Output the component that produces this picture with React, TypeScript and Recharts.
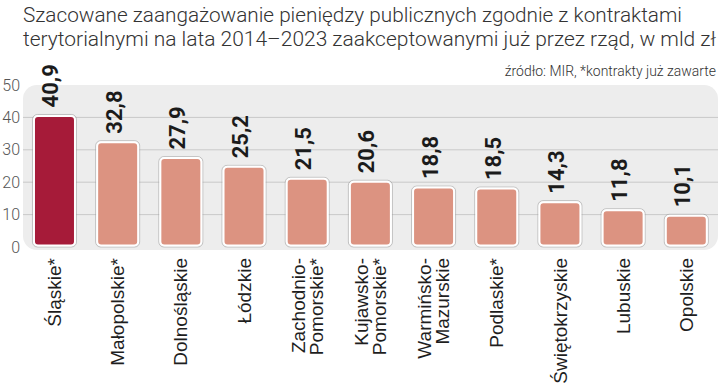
import React from 'react';
import { BarChart, Bar, XAxis, YAxis, Cell, LabelList, ReferenceArea, ReferenceLine } from 'recharts';

const titleLines = [
  'Szacowane zaangażowanie pieniędzy publicznych zgodnie z kontraktami',
  'terytorialnymi na lata 2014–2023 zaakceptowanymi już przez rząd, w mld zł',
];
const sourceText = 'źródło: MIR, *kontrakty już zawarte';

const categories = [
  'Śląskie*',
  'Małopolskie*',
  'Dolnośląskie',
  'Łódzkie',
  'Zachodnio-\nPomorskie*',
  'Kujawsko-\nPomorskie*',
  'Warmińsko-\nMazurskie',
  'Podlaskie*',
  'Świętokrzyskie',
  'Lubuskie',
  'Opolskie',
];
const values = [40.9, 32.8, 27.9, 25.2, 21.5, 20.6, 18.8, 18.5, 14.3, 11.8, 10.1];
const yTicks = [0, 10, 20, 30, 40, 50];
const gridValues = [10, 20, 30, 40];
const highlightIndex = 0;

const DARK = '#a61b39';
const LIGHT = '#dc9381';

const data = categories.map((c, i) => ({ name: c, value: values[i] }));

const BarShape = (props: any) => {
  const { x, y, width, height, fill } = props;
  if (width == null || height == null) return null;
  return (
    <g>
      <rect x={x} y={y} width={width} height={height} rx={5} fill="none" stroke="#9a9a9a" strokeOpacity={0.55} strokeWidth={1} />
      <rect x={x + 1.5} y={y + 1.5} width={width - 3} height={height - 3} rx={4} fill={fill} stroke="#ffffff" strokeWidth={2} />
    </g>
  );
};

const ValueLabel = (props: any) => {
  const vb = props.viewBox && props.viewBox.width != null ? props.viewBox : props;
  const cx = vb.x + vb.width / 2;
  const top = vb.y - 7;
  const bx = cx + 4;
  const txt = String(props.value).replace('.', ',');
  return (
    <text
      x={bx}
      y={top}
      transform={`rotate(-90 ${bx} ${top})`}
      textAnchor="start"
      fontFamily="Roboto"
      fontWeight={700}
      fontSize={22}
      fill="#1b1b1b"
    >
      {txt}
    </text>
  );
};

const CategoryTick = (props: any) => {
  const { x, y, payload } = props;
  const lines = String(payload.value).split('\n');
  const y0 = y + 11;
  const gap = 18;
  return (
    <g>
      {lines.map((ln, i) => {
        const lx = x + (i - (lines.length - 1) / 2) * gap;
        return (
          <text
            key={i}
            x={lx}
            y={y0}
            transform={`rotate(-90 ${lx} ${y0})`}
            textAnchor="end"
            dominantBaseline="central"
            fontFamily="Liberation Sans"
            fontSize={19}
            fill="#1e1e1e"
          >
            {ln}
          </text>
        );
      })}
    </g>
  );
};

const PanelShape = (props: any) => {
  const { x, y, width, height } = props;
  return <rect x={x} y={y} width={width} height={height + 3} rx={14} ry={14} fill="#ededed" />;
};

export default function App() {
  return (
    <div style={{ position: 'absolute', left: 0, top: 0, width: 720, height: 389, background: '#fff', overflow: 'hidden' }}>
      <BarChart width={720} height={389} data={data} margin={{ top: 85, right: 2, left: 0, bottom: 0 }} barCategoryGap="15%">
        <ReferenceArea y1={0} y2={50} shape={PanelShape} zIndex={-60} ifOverflow="visible" />
        {gridValues.map((v) => (
          <ReferenceLine key={v} y={v} stroke="#c9c9c9" strokeWidth={1} zIndex={-55} />
        ))}
        <YAxis
          width={23}
          domain={[0, 50]}
          ticks={yTicks}
          interval={0}
          axisLine={false}
          tickLine={false}
          tickSize={0}
          tickMargin={3}
          tick={{ fill: '#555', fontSize: 16, fontFamily: 'Roboto', fontWeight: 300 }}
        />
        <XAxis
          dataKey="name"
          axisLine={false}
          tickLine={false}
          tickSize={0}
          tickMargin={0}
          interval={0}
          height={142}
          tick={<CategoryTick />}
        />
        <Bar dataKey="value" isAnimationActive={false} shape={BarShape}>
          {data.map((d, i) => (
            <Cell key={d.name} fill={i === highlightIndex ? DARK : LIGHT} />
          ))}
          <LabelList dataKey="value" content={ValueLabel} />
        </Bar>
      </BarChart>
      <svg width={720} height={90} style={{ position: 'absolute', left: 0, top: 0, pointerEvents: 'none' }}>
        <text x={23} y={22} fontFamily="Roboto" fontWeight={300} fontSize={21} fill="#333" textLength={659} lengthAdjust="spacingAndGlyphs">
          {titleLines[0]}
        </text>
        <text x={23} y={46} fontFamily="Roboto" fontWeight={300} fontSize={21} fill="#333" textLength={693} lengthAdjust="spacingAndGlyphs">
          {titleLines[1]}
        </text>
        <g transform="translate(716 76) scale(0.93 1)">
          <text x={0} y={0} textAnchor="end" fontFamily="Roboto" fontWeight={300} fontSize={15} fill="#333">
            {sourceText}
          </text>
        </g>
      </svg>
    </div>
  );
}
